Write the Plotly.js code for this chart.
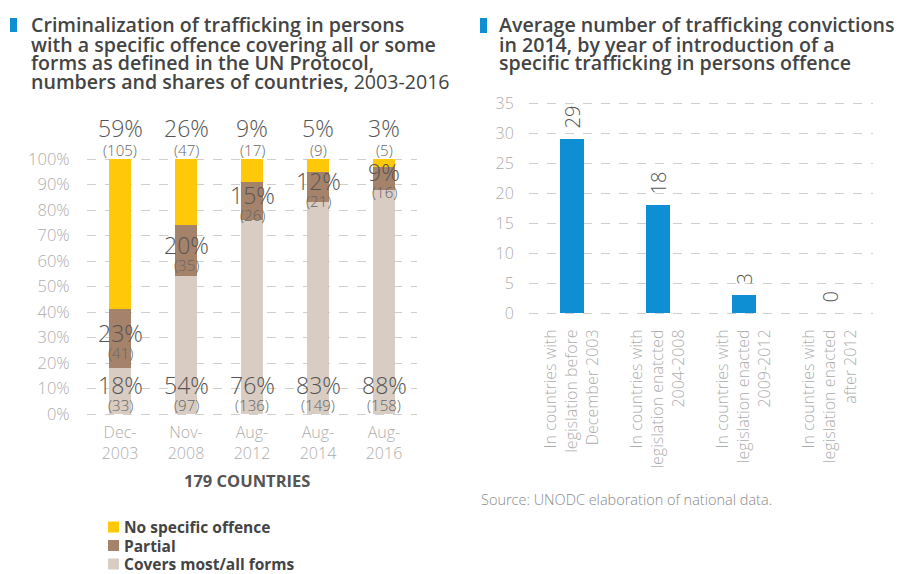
<!DOCTYPE html>
<html>
<head>
<meta charset="utf-8">
<script src="https://cdn.plot.ly/plotly-3.0.1.min.js"></script>
<style>html,body{margin:0;padding:0;background:#fff;}#chart{width:899px;height:574px;}</style>
</head>
<body>
<div id="chart"></div>
<script>
// ---- Data: left chart ----
const periods = ["Dec-<br>2003", "Nov-<br>2008", "Aug-<br>2012", "Aug-<br>2014", "Aug-<br>2016"];
const coversPct = [18, 54, 76, 83, 88];
const partialPct = [23, 20, 15, 12, 9];
const noOffencePct = [59, 26, 9, 5, 3];
const coversN = [33, 97, 136, 149, 158];
const partialN = [41, 35, 26, 21, 16];
const noOffenceN = [105, 47, 17, 9, 5];
const seriesNames = ["Covers most/all forms", "Partial", "No specific offence"];
const leftTitleLines = ["Criminalization of trafficking in persons",
  "with a specific offence covering all or some",
  "forms as defined in the UN Protocol,",
  "numbers and shares of countries, <span style='font-weight:400'>2003-2016</span>"];

// ---- Data: right chart ----
const groups = [
  "In countries with<br>legislation before<br>December 2003",
  "In countries with<br>legislation enatcted<br>2004-2008",
  "In countries with<br>legislation enacted<br>2009-2012",
  "In countries with<br>legislation enacted<br>after 2012"
];
const convictions = [29, 18, 3, 0];
const rightTitleLines = ["Average number of trafficking convictions",
  "in 2014, by year of introduction of a",
  "specific trafficking in persons offence"];

// ---- Styles ----
const W = 899, H = 574;
const px = x => x / W;
const py = y => 1 - y / H;
const FONT = "Open Sans";
const cYellow = "#FFC90A", cBrown = "#A5826A", cBeige = "#D8CCC3", cBlue = "#0F8FD3";
const seriesColors = [cBeige, cBrown, cYellow];
const gridC = "#cfcfcf", tickC = "#adadad", darkC = "#555555", cntC = "#666666";

const traces = [0, 1, 2].map(k => ({
  type: "bar", x: periods, y: [coversPct, partialPct, noOffencePct][k], name: seriesNames[k],
  marker: {color: seriesColors[k]}, xaxis: "x", yaxis: "y", hoverinfo: "skip", showlegend: false
}));
traces.push({type: "bar", x: groups, y: convictions, name: "convictions", showlegend: false, marker: {color: cBlue},
   xaxis: "x2", yaxis: "y2", width: 0.28, hoverinfo: "skip"});

const pctFont = {family: FONT, size: 23, color: darkC, weight: 300};
const cntFont = {family: FONT, size: 15, color: cntC, weight: 300};
const annotations = [];
periods.forEach((p, i) => {
  annotations.push({xref: "x", yref: "y", x: p, y: 100, yshift: 31, text: noOffencePct[i] + "%", showarrow: false, font: pctFont, yanchor: "middle"});
  annotations.push({xref: "x", yref: "y", x: p, y: 100, yshift: 9, text: "(" + noOffenceN[i] + ")", showarrow: false, font: cntFont, yanchor: "middle"});
  const mid = coversPct[i] + partialPct[i] / 2;
  annotations.push({xref: "x", yref: "y", x: p, y: mid, yshift: 6, text: partialPct[i] + "%", showarrow: false, font: pctFont, yanchor: "middle"});
  annotations.push({xref: "x", yref: "y", x: p, y: mid, yshift: -14, text: "(" + partialN[i] + ")", showarrow: false, font: cntFont, yanchor: "middle"});
  annotations.push({xref: "x", yref: "y", x: p, y: 0, yshift: 29, text: coversPct[i] + "%", showarrow: false, font: pctFont, yanchor: "middle"});
  annotations.push({xref: "x", yref: "y", x: p, y: 0, yshift: 9, text: "(" + coversN[i] + ")", showarrow: false, font: cntFont, yanchor: "middle"});
});

// value labels above the blue bars (rotated)
groups.forEach((g, i) => annotations.push({xref: "x2", yref: "y2", x: g, y: convictions[i], yanchor: "bottom",
  yshift: 8, textangle: -90, showarrow: false, text: String(convictions[i]),
  font: {family: FONT, size: 20, color: darkC, weight: 300}}));

const titleFont = {family: FONT, size: 19.6, color: "#444", weight: 600};
leftTitleLines.forEach((t, i) => annotations.push({xref: "paper", yref: "paper", x: px(29), y: py(25 + 19 * i),
  xanchor: "left", yanchor: "middle", showarrow: false, text: t, font: titleFont}));
rightTitleLines.forEach((t, i) => annotations.push({xref: "paper", yref: "paper", x: px(497), y: py(25 + 19 * i),
  xanchor: "left", yanchor: "middle", showarrow: false, text: t, font: titleFont}));

annotations.push({xref: "paper", yref: "paper", x: px(247), y: py(480), xanchor: "center", yanchor: "middle",
  showarrow: false, text: "179 COUNTRIES", font: {family: FONT, size: 16.5, color: darkC, weight: 700}});
annotations.push({xref: "paper", yref: "paper", x: px(479), y: py(499), xanchor: "left", yanchor: "middle",
  showarrow: false, text: "Source: UNODC elaboration of national data.", font: {family: FONT, size: 14.5, color: "#8a8a8a", weight: 300}});

const shapes = [
  {type: "rect", xref: "paper", yref: "paper", x0: px(10), x1: px(17), y0: py(18), y1: py(32), fillcolor: cBlue, line: {width: 0}},
  {type: "rect", xref: "paper", yref: "paper", x0: px(480), x1: px(487), y0: py(18), y1: py(33), fillcolor: cBlue, line: {width: 0}}
];

// manual legend (top to bottom: No specific offence, Partial, Covers)
[2, 1, 0].forEach((k, j) => {
  const cy = 527 + 18.5 * j;
  shapes.push({type: "rect", xref: "paper", yref: "paper", x0: px(108), x1: px(119), y0: py(cy + 5.5), y1: py(cy - 5.5),
    fillcolor: seriesColors[k], line: {width: 0}});
  annotations.push({xref: "paper", yref: "paper", x: px(122), y: py(cy), xanchor: "left", yanchor: "middle",
    showarrow: false, text: seriesNames[k], font: {family: FONT, size: 15.5, color: "#444", weight: 700}});
});

const layout = {
  width: W, height: H,
  margin: {l: 0, r: 0, t: 0, b: 0},
  paper_bgcolor: "#fff", plot_bgcolor: "#fff",
  barmode: "stack", bargap: 0.667,
  font: {family: FONT},
  showlegend: false,
  xaxis: {domain: [px(87), px(417)], showgrid: false, zeroline: false, showline: false, automargin: false,
    tickfont: {family: FONT, size: 16, color: tickC, weight: 300}, ticks: "outside", ticklen: 1, tickcolor: "rgba(0,0,0,0)"},
  yaxis: {domain: [py(416.55), py(156.45)], range: [-1, 101], dtick: 10, ticksuffix: "%", automargin: false,
    showgrid: true, gridcolor: gridC, griddash: "dash", gridwidth: 1, zeroline: false, showline: false,
    ticks: "outside", ticklen: 13, tickcolor: "rgba(0,0,0,0)",
    tickfont: {family: FONT, size: 16.5, color: tickC, weight: 300}},
  xaxis2: {domain: [px(529), px(873)], anchor: "y2", showgrid: false, zeroline: false, showline: false, automargin: false,
    tickangle: -90, tickfont: {family: FONT, size: 16, color: tickC, weight: 300}, ticks: "outside", ticklen: 6, tickcolor: "rgba(0,0,0,0)"},
  yaxis2: {domain: [py(316), py(100)], anchor: "x2", range: [-0.5, 35.5], dtick: 5, automargin: false,
    showgrid: true, gridcolor: gridC, griddash: "dash", gridwidth: 1, zeroline: false, showline: false,
    ticks: "outside", ticklen: 11, tickcolor: "rgba(0,0,0,0)",
    tickfont: {family: FONT, size: 16, color: tickC, weight: 300}},
  annotations: annotations,
  shapes: shapes
};

Plotly.newPlot("chart", traces, layout, {displayModeBar: false, staticPlot: true});
</script>
</body>
</html>
